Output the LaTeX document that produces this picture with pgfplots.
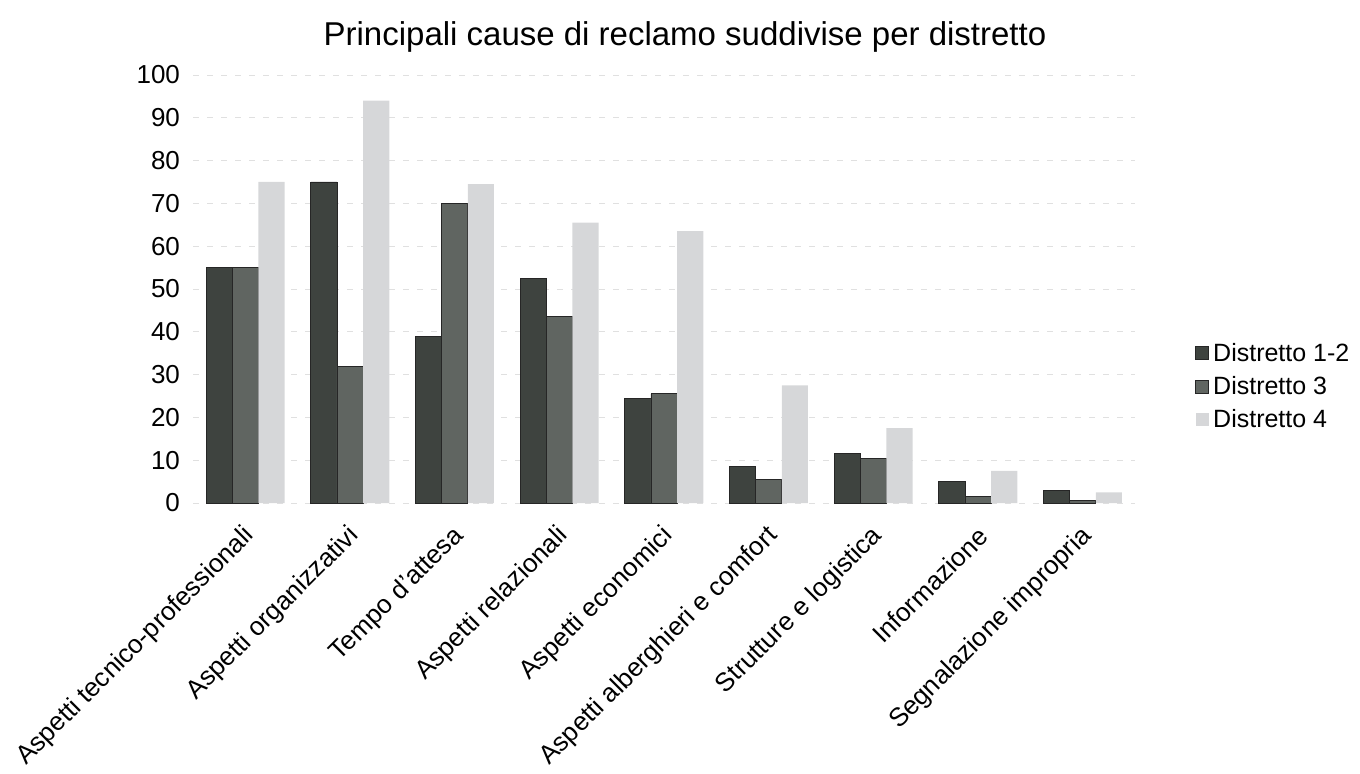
\documentclass[border=0pt]{standalone}
\usepackage{fontspec}
\setmainfont{Liberation Sans}
\usepackage{pgfplots}
\pgfplotsset{compat=1.18}

\definecolor{dOne}{RGB}{62,67,63}
\definecolor{dThree}{RGB}{96,101,97}
\definecolor{dFour}{RGB}{214,215,217}

\begin{document}
\begin{tikzpicture}
\useasboundingbox (0,0) rectangle (680pt,-387pt);
\node[font=\fontsize{16.5}{19}\selectfont] at (342.5pt,-18.5pt) {Principali cause di reclamo suddivise per distretto};
\begin{axis}[
  at={(96.5pt,-251.5pt)}, anchor=south west,
  scale only axis,
  width=471pt, height=214pt,
  ymin=0, ymax=100,
  ytick={0,10,...,100},
  xmin=-0.5, xmax=8.5,
  xtick={0,...,8},
  xticklabels={Aspetti tecnico-professionali,Aspetti organizzativi,Tempo d'attesa,Aspetti relazionali,Aspetti economici,Aspetti alberghieri e comfort,Strutture e logistica,Informazione,Segnalazione impropria},
  x tick label style={xshift=5pt, yshift=-12pt, rotate=45, anchor=east, font=\fontsize{13}{15}\selectfont},
  y tick label style={font=\fontsize{13}{15}\selectfont, xshift=-3pt},
  /pgf/number format/assume math mode=true,
  axis line style={draw=none},
  major tick length=0pt,
  ymajorgrids,
  grid style={draw=black!12, dash pattern=on 3pt off 4pt},
  ybar, bar width=0.25,
  legend style={at={(1,0.271)}, anchor=west, xshift=27pt, draw=none, fill=none,
    font=\fontsize{12.5}{15}\selectfont, row sep=2pt},
  legend cell align=left,
  legend image code/.code={\fill[#1] (0pt,-3pt) rectangle (6.5pt,3.5pt);},
]
\addplot[fill=dOne, draw=black!85, bar shift=-0.25] coordinates {
  (0,55) (1,75) (2,39) (3,52.5) (4,24.5) (5,8.5) (6,11.5) (7,5) (8,3)};
\addplot[fill=dThree, draw=black!85, bar shift=0] coordinates {
  (0,55) (1,32) (2,70) (3,43.5) (4,25.5) (5,5.5) (6,10.5) (7,1.5) (8,0.6)};
\addplot[fill=dFour, draw=none, bar shift=0.25] coordinates {
  (0,75) (1,94) (2,74.5) (3,65.5) (4,63.5) (5,27.5) (6,17.5) (7,7.5) (8,2.5)};
\legend{Distretto 1-2,Distretto 3,Distretto 4}
\end{axis}
\end{tikzpicture}
\end{document}
